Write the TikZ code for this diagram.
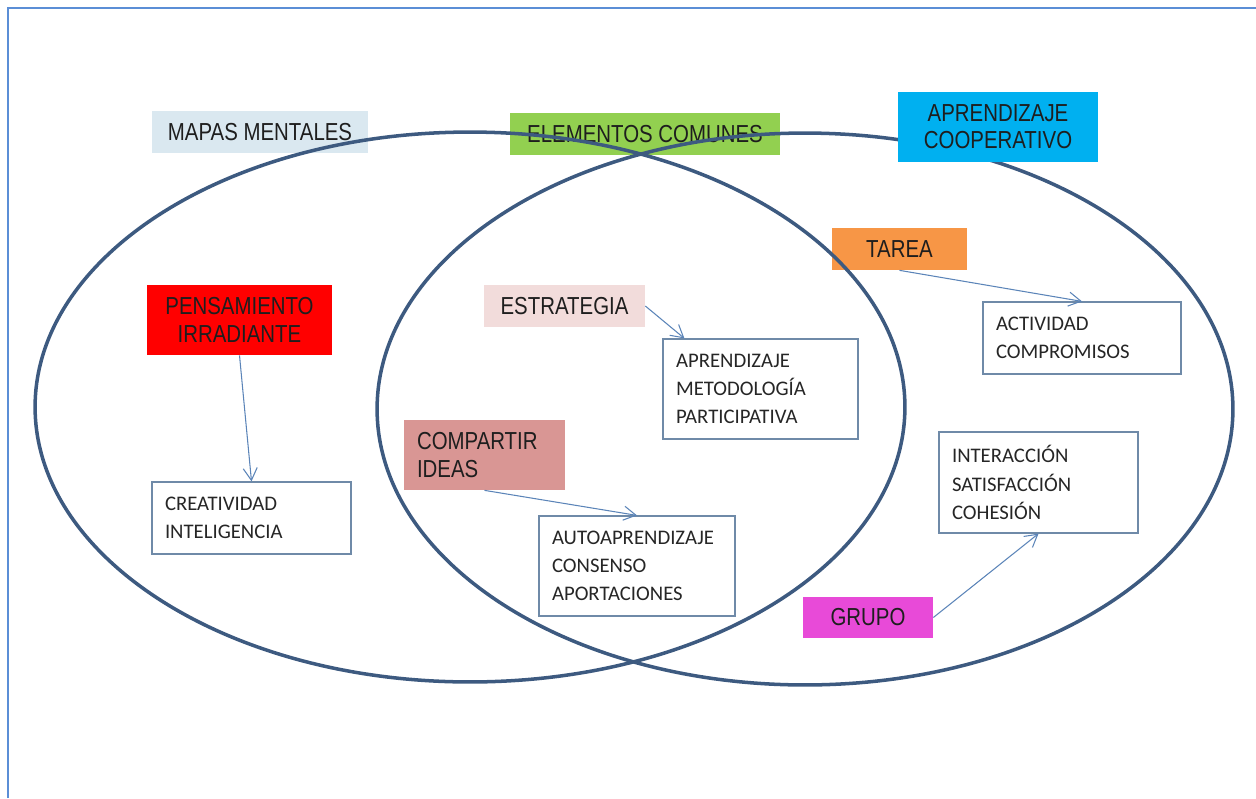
\documentclass[tikz,border=0pt]{standalone}
\usepackage{fontspec}
\setmainfont{Liberation Sans}
\newfontfamily\headfont[FakeStretch=0.83]{Liberation Sans}
\newfontfamily\itemfont{Carlito}
\usetikzlibrary{arrows.meta}
\usepackage{xcolor}
\definecolor{framecol}{HTML}{5B8ED6}
\definecolor{ringcol}{HTML}{3D5A80}
\definecolor{linkcol}{HTML}{5B84B8}
\definecolor{boxline}{HTML}{6F8AA8}
\definecolor{headtext}{HTML}{1E1E1E}
\definecolor{mapascol}{HTML}{DAE8F0}
\definecolor{elemcol}{HTML}{92D050}
\definecolor{coopcol}{HTML}{00B0F0}
\definecolor{tareacol}{HTML}{F79646}
\definecolor{penscol}{HTML}{FF0000}
\definecolor{estrcol}{HTML}{F2DCDB}
\definecolor{compcol}{HTML}{D99694}
\definecolor{grupocol}{HTML}{E84AD8}

\begin{document}
\begin{tikzpicture}[x=0.02cm, y=-0.02cm, >={Straight Barb[length=7pt,width=8pt]},
  head/.style={rectangle, inner sep=0pt, align=center, text=headtext,
    font=\headfont\fontsize{14}{15.5}\selectfont},
  itembox/.style={draw=boxline, line width=0.7pt, fill=white, rectangle,
    inner xsep=0.26cm, inner ysep=0pt, align=left, text=black!85,
    font=\itemfont\fontsize{11.8}{16}\selectfont},
  link/.style={->, draw=linkcol, line width=0.6pt},
  ring/.style={draw=ringcol, line width=2pt}]
\useasboundingbox (0,0) rectangle (1256,798);
\draw[draw=framecol, line width=1.6pt] (8,798) -- (8,8) -- (1256,8);

\node[head, fill=mapascol, minimum width=4.32cm, minimum height=0.84cm] (mapas) at (260,132) {MAPAS MENTALES};
\node[head, fill=elemcol, minimum width=5.4cm, minimum height=0.84cm] (elem) at (645,134) {ELEMENTOS COMUNES};
\node[head, fill=tareacol, minimum width=2.7cm, minimum height=0.84cm] (tarea) at (899.5,249) {TAREA};

\draw[ring] (470,407) ellipse [x radius=8.7cm, y radius=5.5cm];
\draw[ring] (805,409) ellipse [x radius=8.56cm, y radius=5.52cm];

\node[head, fill=coopcol, minimum width=4cm, minimum height=1.4cm] (coop) at (998,127) {APRENDIZAJE\\COOPERATIVO};
\node[head, fill=penscol, minimum width=3.7cm, minimum height=1.4cm] (pens) at (239.5,320) {PENSAMIENTO\\IRRADIANTE};
\node[head, fill=estrcol, minimum width=3.22cm, minimum height=0.84cm] (estr) at (564.5,306) {ESTRATEGIA};
\node[head, fill=compcol, inner xsep=0.26cm, text width=2.7cm, align=left, minimum height=1.4cm] (comp) at (484.5,455) {COMPARTIR\\IDEAS};
\node[head, fill=grupocol, minimum width=2.6cm, minimum height=0.82cm] (grupo) at (868,617.5) {GRUPO};

\node[itembox, text width=3.44cm, minimum height=1.44cm] (act) at (1082,338) {ACTIVIDAD\\COMPROMISOS};
\node[itembox, text width=3.46cm, minimum height=1.44cm] (creat) at (251.5,518) {CREATIVIDAD\\INTELIGENCIA};
\node[itembox, text width=3.38cm, minimum height=2cm] (metod) at (760.5,389) {APRENDIZAJE\\METODOLOGÍA\\PARTICIPATIVA};
\node[itembox, text width=3.4cm, minimum height=2cm] (auto) at (637,566) {AUTOAPRENDIZAJE\\CONSENSO\\APORTACIONES};
\node[itembox, text width=3.46cm, minimum height=2.02cm] (inter) at (1038.5,482.5) {INTERACCIÓN\\SATISFACCIÓN\\COHESIÓN};

\draw[link] (tarea.south) -- (act.north);
\draw[link] (pens.south) -- (creat.north);
\draw[link] (estr.east) -- ([xshift=0.44cm]metod.north west);
\draw[link] (comp.south) -- (auto.north);
\draw[link] (grupo.east) -- (inter.south);
\end{tikzpicture}
\end{document}
